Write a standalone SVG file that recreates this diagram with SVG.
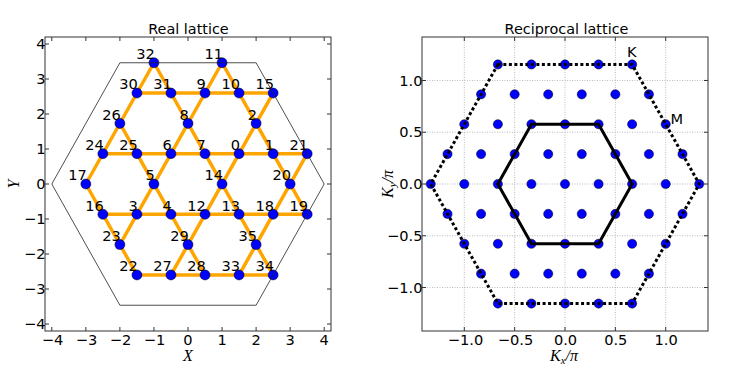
<svg xmlns="http://www.w3.org/2000/svg" width="747" height="374" viewBox="0 0 747 374">
<style>
text{font-family:"DejaVu Sans","Liberation Sans",sans-serif;font-size:14.6px;fill:#000}
.title{font-size:14.4px;text-anchor:middle}
.xt{text-anchor:middle}
.yt{text-anchor:end}
.lbl{text-anchor:end}
.math{font-family:"Liberation Serif","DejaVu Serif",serif;font-style:italic;font-size:16px}
.spine{fill:none;stroke:#333;stroke-width:1}
.tick{fill:none;stroke:#333;stroke-width:1}
.edge{stroke:#FFA500;stroke-width:3.5;stroke-linecap:butt;fill:none}
.node{fill:#0000FF;stroke:#000;stroke-width:0.5}
.rdot{fill:#0000FF;stroke:#000;stroke-width:0.5}
.grid{stroke:#aaaaaa;stroke-width:0.8;stroke-dasharray:1 1.5;fill:none}
.hexout{fill:none;stroke:#222;stroke-width:0.8}
.bz2{fill:none;stroke:#000;stroke-width:3;stroke-dasharray:3 2.5}
.bz1{fill:none;stroke:#000;stroke-width:3;stroke-linejoin:miter}
</style>
<rect width="747" height="374" fill="#fff"/>

<!-- ===== Left panel: Real lattice ===== -->
<text class="title" x="188.5" y="34">Real lattice</text>
<rect class="spine" x="45" y="37" width="286" height="294" fill="#fff"/>
<path class="tick" d="M51.8 331v-4M85.85 331v-4M119.9 331v-4M153.95 331v-4M188 331v-4M222.05 331v-4M256.1 331v-4M290.15 331v-4M324.2 331v-4
M51.8 37v4M85.85 37v4M119.9 37v4M153.95 37v4M188 37v4M222.05 37v4M256.1 37v4M290.15 37v4M324.2 37v4
M45 44h4M45 79h4M45 114h4M45 149h4M45 184h4M45 219h4M45 254h4M45 289h4M45 324h4
M331 44h-4M331 79h-4M331 114h-4M331 149h-4M331 184h-4M331 219h-4M331 254h-4M331 289h-4M331 324h-4"/>
<g id="left-xticklabels">
<text class="xt" x="52.5" y="345">−4</text>
<text class="xt" x="86.5" y="345">−3</text>
<text class="xt" x="120.5" y="345">−2</text>
<text class="xt" x="154.5" y="345">−1</text>
<text class="xt" x="188" y="345">0</text>
<text class="xt" x="222.05" y="345">1</text>
<text class="xt" x="256.1" y="345">2</text>
<text class="xt" x="290.15" y="345">3</text>
<text class="xt" x="324.2" y="345">4</text>
</g>
<g id="left-yticklabels">
<text class="yt" x="45.5" y="49.2">4</text>
<text class="yt" x="45.5" y="84.2">3</text>
<text class="yt" x="45.5" y="119.2">2</text>
<text class="yt" x="45.5" y="154.2">1</text>
<text class="yt" x="45.5" y="189.2">0</text>
<text class="yt" x="45.5" y="224.2">−1</text>
<text class="yt" x="45.5" y="259.2">−2</text>
<text class="yt" x="45.5" y="294.2">−3</text>
<text class="yt" x="45.5" y="329.2">−4</text>
</g>
<text class="math" x="188" y="361" text-anchor="middle">X</text>
<text class="math" x="0" y="0" text-anchor="middle" transform="translate(18.5 184) rotate(-90)">Y</text>

<g id="connectors">
<path class="edge" d="M136.93 93.07H273.13M102.88 153.69H307.18M102.88 214.31H307.18M136.93 274.93H273.13"/>
<path class="edge" d="M85.85 184L153.95 62.76M119.9 244.62L222.05 62.76M170.98 274.93L273.13 93.07M239.08 274.93L307.18 153.69"/>
<path class="edge" d="M85.85 184L136.93 274.93M119.9 123.38L205.03 274.93M153.95 62.76L273.13 274.93M222.05 62.76L307.18 214.31"/>
</g>

<g id="nodes">
<g id="n0"><circle class="node" cx="239.08" cy="153.69" r="5"/></g>
<g id="n1"><circle class="node" cx="273.13" cy="153.69" r="5"/></g>
<g id="n2"><circle class="node" cx="256.1" cy="123.38" r="5"/></g>
<g id="n3"><circle class="node" cx="136.93" cy="214.31" r="5"/></g>
<g id="n4"><circle class="node" cx="170.98" cy="214.31" r="5"/></g>
<g id="n5"><circle class="node" cx="153.95" cy="184" r="5"/></g>
<g id="n6"><circle class="node" cx="170.98" cy="153.69" r="5"/></g>
<g id="n7"><circle class="node" cx="205.03" cy="153.69" r="5"/></g>
<g id="n8"><circle class="node" cx="188" cy="123.38" r="5"/></g>
<g id="n9"><circle class="node" cx="205.03" cy="93.07" r="5"/></g>
<g id="n10"><circle class="node" cx="239.08" cy="93.07" r="5"/></g>
<g id="n11"><circle class="node" cx="222.05" cy="62.76" r="5"/></g>
<g id="n12"><circle class="node" cx="205.03" cy="214.31" r="5"/></g>
<g id="n13"><circle class="node" cx="239.08" cy="214.31" r="5"/></g>
<g id="n14"><circle class="node" cx="222.05" cy="184" r="5"/></g>
<g id="n15"><circle class="node" cx="273.13" cy="93.07" r="5"/></g>
<g id="n16"><circle class="node" cx="102.88" cy="214.31" r="5"/></g>
<g id="n17"><circle class="node" cx="85.85" cy="184" r="5"/></g>
<g id="n18"><circle class="node" cx="273.13" cy="214.31" r="5"/></g>
<g id="n19"><circle class="node" cx="307.18" cy="214.31" r="5"/></g>
<g id="n20"><circle class="node" cx="290.15" cy="184" r="5"/></g>
<g id="n21"><circle class="node" cx="307.18" cy="153.69" r="5"/></g>
<g id="n22"><circle class="node" cx="136.93" cy="274.93" r="5"/></g>
<g id="n23"><circle class="node" cx="119.9" cy="244.62" r="5"/></g>
<g id="n24"><circle class="node" cx="102.88" cy="153.69" r="5"/></g>
<g id="n25"><circle class="node" cx="136.93" cy="153.69" r="5"/></g>
<g id="n26"><circle class="node" cx="119.9" cy="123.38" r="5"/></g>
<g id="n27"><circle class="node" cx="170.98" cy="274.93" r="5"/></g>
<g id="n28"><circle class="node" cx="205.03" cy="274.93" r="5"/></g>
<g id="n29"><circle class="node" cx="188" cy="244.62" r="5"/></g>
<g id="n30"><circle class="node" cx="136.93" cy="93.07" r="5"/></g>
<g id="n31"><circle class="node" cx="170.98" cy="93.07" r="5"/></g>
<g id="n32"><circle class="node" cx="153.95" cy="62.76" r="5"/></g>
<g id="n33"><circle class="node" cx="239.08" cy="274.93" r="5"/></g>
<g id="n34"><circle class="node" cx="273.13" cy="274.93" r="5"/></g>
<g id="n35"><circle class="node" cx="256.1" cy="244.62" r="5"/></g>
</g>

<polygon id="cluster-outline" class="hexout" points="119.9,62.76 256.1,62.76 324.2,184 256.1,305.24 119.9,305.24 51.8,184"/>

<g id="node-labels">
<text class="lbl" x="240" y="149.9">0</text>
<text class="lbl" x="274" y="149.9">1</text>
<text class="lbl" x="257" y="119.6">2</text>
<text class="lbl" x="137.8" y="210.5">3</text>
<text class="lbl" x="171.9" y="210.5">4</text>
<text class="lbl" x="154.8" y="180.2">5</text>
<text class="lbl" x="171.9" y="149.9">6</text>
<text class="lbl" x="205.9" y="149.9">7</text>
<text class="lbl" x="188.9" y="119.6">8</text>
<text class="lbl" x="205.9" y="89.3">9</text>
<text class="lbl" x="240" y="89.3">10</text>
<text class="lbl" x="223" y="59">11</text>
<text class="lbl" x="205.9" y="210.5">12</text>
<text class="lbl" x="240" y="210.5">13</text>
<text class="lbl" x="223" y="180.2">14</text>
<text class="lbl" x="274" y="89.3">15</text>
<text class="lbl" x="103.8" y="210.5">16</text>
<text class="lbl" x="86.8" y="180.2">17</text>
<text class="lbl" x="274" y="210.5">18</text>
<text class="lbl" x="308.1" y="210.5">19</text>
<text class="lbl" x="291" y="180.2">20</text>
<text class="lbl" x="308.1" y="149.9">21</text>
<text class="lbl" x="137.8" y="271.1">22</text>
<text class="lbl" x="120.8" y="240.8">23</text>
<text class="lbl" x="103.8" y="149.9">24</text>
<text class="lbl" x="137.8" y="149.9">25</text>
<text class="lbl" x="120.8" y="119.6">26</text>
<text class="lbl" x="171.9" y="271.1">27</text>
<text class="lbl" x="205.9" y="271.1">28</text>
<text class="lbl" x="188.9" y="240.8">29</text>
<text class="lbl" x="137.8" y="89.3">30</text>
<text class="lbl" x="171.9" y="89.3">31</text>
<text class="lbl" x="154.8" y="59">32</text>
<text class="lbl" x="240" y="271.1">33</text>
<text class="lbl" x="274" y="271.1">34</text>
<text class="lbl" x="257" y="240.8">35</text>
</g>

<!-- ===== Right panel: Reciprocal lattice ===== -->
<text class="title" x="566.5" y="34">Reciprocal lattice</text>
<rect class="spine" x="422" y="37" width="286" height="294" fill="#fff"/>
<path class="grid" d="M464.3 37V331M514.65 37V331M565 37V331M615.35 37V331M665.7 37V331M422 80.48H708M422 132.24H708M422 184H708M422 235.76H708M422 287.52H708"/>
<path class="tick" d="M464.3 331v-4M514.65 331v-4M565 331v-4M615.35 331v-4M665.7 331v-4
M464.3 37v4M514.65 37v4M565 37v4M615.35 37v4M665.7 37v4
M422 80.48h4M422 132.24h4M422 184h4M422 235.76h4M422 287.52h4
M708 80.48h-4M708 132.24h-4M708 184h-4M708 235.76h-4M708 287.52h-4"/>
<g id="right-xticklabels">
<text class="xt" x="465.5" y="345">−1.0</text>
<text class="xt" x="515.5" y="345">−0.5</text>
<text class="xt" x="565.5" y="345">0.0</text>
<text class="xt" x="615.8" y="345">0.5</text>
<text class="xt" x="666.2" y="345">1.0</text>
</g>
<g id="right-yticklabels">
<text class="yt" x="422.5" y="85.7">1.0</text>
<text class="yt" x="422.5" y="137.4">0.5</text>
<text class="yt" x="422.5" y="189.2">0.0</text>
<text class="yt" x="422.5" y="241">−0.5</text>
<text class="yt" x="422.5" y="292.7">−1.0</text>
</g>
<text class="math" x="564" y="360.5" text-anchor="middle" font-size="15.5">K<tspan font-size="10.5" dy="3">x</tspan><tspan dy="-3">/π</tspan></text>
<text class="math" x="0" y="0" text-anchor="middle" transform="translate(393 184) rotate(-90)">K<tspan font-size="11" dy="3">y</tspan><tspan dy="-3">/π</tspan></text>

<g id="reciprocal-points">
<circle class="rdot" cx="497.87" cy="64.47" r="4.6"/><circle class="rdot" cx="531.43" cy="64.47" r="4.6"/><circle class="rdot" cx="565" cy="64.47" r="4.6"/><circle class="rdot" cx="598.57" cy="64.47" r="4.6"/><circle class="rdot" cx="632.13" cy="64.47" r="4.6"/>
<circle class="rdot" cx="481.08" cy="94.35" r="4.6"/><circle class="rdot" cx="514.65" cy="94.35" r="4.6"/><circle class="rdot" cx="548.22" cy="94.35" r="4.6"/><circle class="rdot" cx="581.78" cy="94.35" r="4.6"/><circle class="rdot" cx="615.35" cy="94.35" r="4.6"/><circle class="rdot" cx="648.92" cy="94.35" r="4.6"/>
<circle class="rdot" cx="464.3" cy="124.23" r="4.6"/><circle class="rdot" cx="497.87" cy="124.23" r="4.6"/><circle class="rdot" cx="531.43" cy="124.23" r="4.6"/><circle class="rdot" cx="565" cy="124.23" r="4.6"/><circle class="rdot" cx="598.57" cy="124.23" r="4.6"/><circle class="rdot" cx="632.13" cy="124.23" r="4.6"/><circle class="rdot" cx="665.7" cy="124.23" r="4.6"/>
<circle class="rdot" cx="447.51" cy="154.12" r="4.6"/><circle class="rdot" cx="481.08" cy="154.12" r="4.6"/><circle class="rdot" cx="514.65" cy="154.12" r="4.6"/><circle class="rdot" cx="548.22" cy="154.12" r="4.6"/><circle class="rdot" cx="581.78" cy="154.12" r="4.6"/><circle class="rdot" cx="615.35" cy="154.12" r="4.6"/><circle class="rdot" cx="648.92" cy="154.12" r="4.6"/><circle class="rdot" cx="682.49" cy="154.12" r="4.6"/>
<circle class="rdot" cx="430.73" cy="184" r="4.6"/><circle class="rdot" cx="464.3" cy="184" r="4.6"/><circle class="rdot" cx="497.87" cy="184" r="4.6"/><circle class="rdot" cx="531.43" cy="184" r="4.6"/><circle class="rdot" cx="565" cy="184" r="4.6"/><circle class="rdot" cx="598.57" cy="184" r="4.6"/><circle class="rdot" cx="632.13" cy="184" r="4.6"/><circle class="rdot" cx="665.7" cy="184" r="4.6"/><circle class="rdot" cx="699.27" cy="184" r="4.6"/>
<circle class="rdot" cx="447.51" cy="213.88" r="4.6"/><circle class="rdot" cx="481.08" cy="213.88" r="4.6"/><circle class="rdot" cx="514.65" cy="213.88" r="4.6"/><circle class="rdot" cx="548.22" cy="213.88" r="4.6"/><circle class="rdot" cx="581.78" cy="213.88" r="4.6"/><circle class="rdot" cx="615.35" cy="213.88" r="4.6"/><circle class="rdot" cx="648.92" cy="213.88" r="4.6"/><circle class="rdot" cx="682.49" cy="213.88" r="4.6"/>
<circle class="rdot" cx="464.3" cy="243.77" r="4.6"/><circle class="rdot" cx="497.87" cy="243.77" r="4.6"/><circle class="rdot" cx="531.43" cy="243.77" r="4.6"/><circle class="rdot" cx="565" cy="243.77" r="4.6"/><circle class="rdot" cx="598.57" cy="243.77" r="4.6"/><circle class="rdot" cx="632.13" cy="243.77" r="4.6"/><circle class="rdot" cx="665.7" cy="243.77" r="4.6"/>
<circle class="rdot" cx="481.08" cy="273.65" r="4.6"/><circle class="rdot" cx="514.65" cy="273.65" r="4.6"/><circle class="rdot" cx="548.22" cy="273.65" r="4.6"/><circle class="rdot" cx="581.78" cy="273.65" r="4.6"/><circle class="rdot" cx="615.35" cy="273.65" r="4.6"/><circle class="rdot" cx="648.92" cy="273.65" r="4.6"/>
<circle class="rdot" cx="497.87" cy="303.53" r="4.6"/><circle class="rdot" cx="531.43" cy="303.53" r="4.6"/><circle class="rdot" cx="565" cy="303.53" r="4.6"/><circle class="rdot" cx="598.57" cy="303.53" r="4.6"/><circle class="rdot" cx="632.13" cy="303.53" r="4.6"/>
</g>
<g id="brillouin-zones">
<polygon class="bz2" points="497.87,64.47 632.13,64.47 699.27,184 632.13,303.53 497.87,303.53 430.73,184"/>
<polygon class="bz1" points="531.43,124.23 598.57,124.23 632.13,184 598.57,243.77 531.43,243.77 497.87,184"/>
</g>
<text x="627" y="57">K</text>
<text x="670.5" y="124.3">M</text>
</svg>
